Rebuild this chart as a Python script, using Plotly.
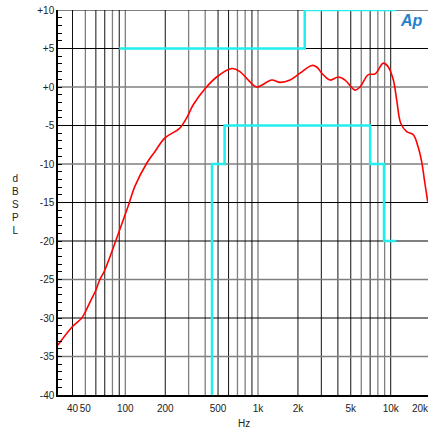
import math
import plotly.graph_objects as go

# Measured response (Hz, dB SPL)
freq_hz = [31.1, 40, 47, 50, 55, 60, 64, 70, 88, 105, 118, 145, 167, 199, 255, 290,
           325, 400, 488, 634, 731, 845, 977, 1268, 1466, 1743, 2073, 2541, 2770,
           3020, 3490, 4030, 4530, 5380, 5870, 6780, 7620, 8800, 9590, 10470,
           11100, 11900, 13200, 14800, 16100, 17100, 18100, 19000]
level_db = [-33.5, -31.1, -30.0, -29.2, -27.7, -26.4, -25.1, -23.8, -19.2, -15.5,
            -12.9, -9.9, -8.4, -6.6, -5.4, -4.0, -2.3, -0.2, 1.3, 2.4, 2.0, 0.9,
            0.0, 0.9, 0.6, 0.9, 1.8, 2.8, 2.6, 1.8, 0.9, 1.3, 0.9, -0.4, 0.0, 1.6,
            1.7, 3.1, 2.6, 0.9, -1.7, -4.7, -5.8, -6.2, -7.8, -9.7, -12.5, -14.9]

# Limit masks (Hz, dB)
upper_hz = [90, 2250, 2250, 11000]
upper_db = [5, 5, 10, 10]
lower_hz = [450, 450, 560, 560, 7000, 7000, 8900, 8900, 11000]
lower_db = [-40, -10, -10, -5, -5, -10, -10, -20, -20]

# Axis ticks / grid
x_label_vals = [40, 50, 100, 200, 500, 1000, 2000, 5000, 10000]
x_label_text = ["40", "50", "100", "200", "500", "1k", "2k", "5k", "10k"]
x_grid_black = [40, 60, 70, 90, 200, 500, 600, 900, 2000, 3000, 4000, 5000, 7000, 10000]
x_grid_gray = [50, 80, 100, 300, 400, 700, 800, 1000, 6000, 8000, 9000]
y_tick_vals = [10, 5, 0, -5, -10, -15, -20, -25, -30, -35, -40]
y_tick_text = ["+10", "+5", "+0", "-5", "-10", "-15", "-20", "-25", "-30", "-35", "-40"]
y_grid_black = [10, 5, -5, -15, -20, -30]
y_grid_gray = [0, -10, -25, -35]

GRAY = "#7f7f7f"
CYAN = "#22eeee"

fig = go.Figure()

for f in x_grid_gray:
    fig.add_shape(type="line", xref="x", yref="paper", x0=f, x1=f,
                  y0=0, y1=1, line=dict(color=GRAY, width=1.3), layer="below")
for f in x_grid_black:
    fig.add_shape(type="line", xref="x", yref="paper", x0=f, x1=f,
                  y0=0, y1=1, line=dict(color="#111111", width=1), layer="below")
for v in y_grid_gray:
    fig.add_shape(type="line", xref="paper", yref="y", x0=0, x1=1, y0=v, y1=v,
                  line=dict(color=GRAY, width=1.5), layer="below")
for v in y_grid_black:
    fig.add_shape(type="line", xref="paper", yref="y", x0=0, x1=1, y0=v, y1=v,
                  line=dict(color="#000000", width=1), layer="below")

fig.add_trace(go.Scatter(x=upper_hz, y=upper_db, mode="lines",
                         line=dict(color=CYAN, width=2.5), hoverinfo="skip"))
fig.add_trace(go.Scatter(x=lower_hz, y=lower_db, mode="lines",
                         line=dict(color=CYAN, width=2.5), hoverinfo="skip"))
fig.add_trace(go.Scatter(x=freq_hz, y=level_db, mode="lines", line_shape="spline",
                         line=dict(color="#ff0000", width=1.6)))

font = dict(family="Liberation Sans, Arial, sans-serif", size=10, color="#222222")

fig.update_layout(
    width=428, height=432,
    margin=dict(l=58, r=0, t=10, b=37),
    paper_bgcolor="white", plot_bgcolor="white",
    showlegend=False,
    font=font,
    xaxis=dict(type="log", range=[math.log10(31.1), math.log10(19100)],
               tickvals=x_label_vals, ticktext=x_label_text, tickangle=0,
               showgrid=False, zeroline=False,
               showline=True, linecolor="black", linewidth=1.5,
               ticks="outside", ticklen=3, tickcolor="rgba(0,0,0,0)",
               tickfont=font),
    yaxis=dict(range=[-40, 10], tickvals=y_tick_vals, ticktext=y_tick_text,
               showgrid=False, zeroline=False,
               showline=True, linecolor="black", linewidth=1.5,
               ticks="inside", ticklen=4, tickcolor="black",
               minor=dict(ticks="inside", dtick=1, ticklen=4, tickcolor="black"),
               tickfont=font),
    annotations=[
        dict(text="Hz", xref="paper", yref="paper", x=0.503, y=-0.075,
             showarrow=False, font=font, xanchor="center", yanchor="middle"),
        dict(text="d<br>B<br>S<br>P<br>L", xref="paper", yref="paper", x=-0.116, y=0.496,
             showarrow=False, font=font, xanchor="center", yanchor="middle", align="center"),
        dict(text="20k", xref="paper", yref="paper", x=0.981, y=-0.034,
             showarrow=False, font=font, xanchor="center", yanchor="middle"),
        dict(text="<i><b>Ap</b></i>", xref="paper", yref="paper", x=0.955, y=0.972,
             showarrow=False, font=dict(family="Liberation Sans, Arial", size=16, color="#1f82c8"),
             xanchor="center", yanchor="middle"),
    ],
)

fig.write_html("out.html", post_script="document.body.style.margin='0';",
               config={"displayModeBar": False})
